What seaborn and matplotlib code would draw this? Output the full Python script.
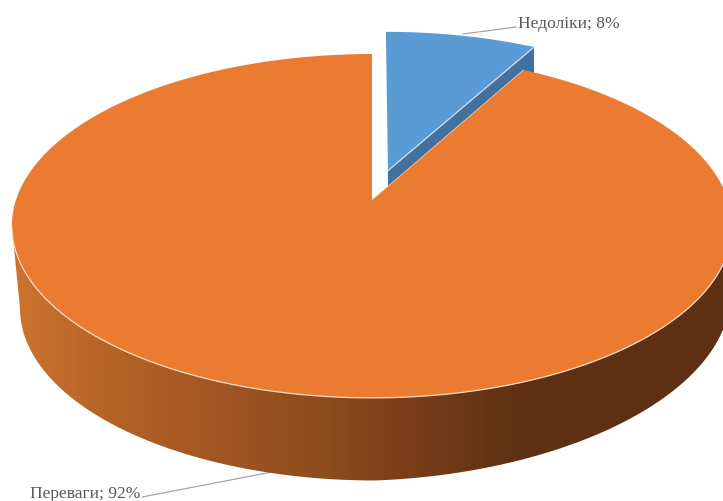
import numpy as np
import seaborn as sns
import matplotlib
matplotlib.use("Agg")
import matplotlib.pyplot as plt
from matplotlib.patches import Polygon, PathPatch
from matplotlib.path import Path

categories = ["Недоліки", "Переваги"]
shares = [8, 92]
label_texts = ["Недоліки; 8%", "Переваги; 92%"]

sns.set_theme(style="white")
plt.rcParams["font.family"] = ["Liberation Serif", "DejaVu Serif"]

BLUE, BLUE_DARK, ORANGE = "#5B9BD5", "#41719C", "#EA7B30"
GREY, LEADER = "#595959", "#A6A6A6"
side_cmap = sns.blend_palette(
    ["#CD7430", "#B56226", "#A25623", "#8F4C1E", "#783D19", "#5E3013",
     "#5E3013", "#5E3013"], as_cmap=True)

CX, CY, A, B, K = 372.0, 201.0, 356.0, 168.0, 0.151


def project(u, v):
    d = 1 + K * v
    return CX + A * u / d, CY - B * v / d


def front_edge(t):
    return CX + 3 + 355 * np.sin(t), 309.5 - 172 * np.cos(t)


fig = plt.figure(figsize=(7.23, 5.02), dpi=100, facecolor="white")
ax = fig.add_axes([0, 0, 1, 1])
ax.set_xlim(0, 723)
ax.set_ylim(502, 0)
ax.axis("off")

frac = np.asarray(shares, float) / np.sum(shares)
split = 2 * np.pi * frac[0]

# exploded slice
bis = split / 2
eu, ev = 0.185 * np.sin(bis), 0.185 * np.cos(bis)
t1 = np.linspace(0, split, 60)
bx, by = project(np.sin(t1) + eu, np.cos(t1) + ev)
ax0, ay0 = project(eu, ev)
ax.add_patch(Polygon([(ax0, ay0), (bx[-1], by[-1]), (bx[-1], by[-1] + 26),
                      (ax0, ay0 + 16)], closed=True, fc=BLUE_DARK, ec="none", zorder=2))
ax.add_patch(Polygon(np.r_[[[ax0, ay0]], np.c_[bx, by]], closed=True,
                     fc=BLUE, ec="none", zorder=3))
ax.plot([ax0, bx[-1]], [ay0, by[-1]], color="#CFE0F0", lw=0.9, zorder=4)

# large slice: wall then top
t2 = np.linspace(split, 2 * np.pi, 400)
ox, oy = project(np.sin(t2), np.cos(t2))
tf = np.linspace(np.arccos(-K), 2 * np.pi - np.arccos(-K), 300)
tb = np.linspace(np.pi * 0.5, np.pi * 1.5, 300)
tx, ty = project(np.sin(tf), np.cos(tf))
fx, fy = front_edge(tb)
fy = fy - 0.037 * np.clip(fx - 375, 0, None)
wall = np.r_[np.c_[tx, ty], np.c_[fx, fy][::-1]]
gradient = ax.imshow(np.linspace(0, 1, 512).reshape(1, -1), extent=(12, 723, 502, 0),
                     cmap=side_cmap, aspect="auto", zorder=5)
clip = PathPatch(Path(np.r_[wall, wall[:1]]), transform=ax.transData, fc="none", ec="none")
ax.add_patch(clip)
gradient.set_clip_path(clip)
ax.set_xlim(0, 723)
ax.set_ylim(502, 0)

ax.add_patch(Polygon(np.r_[[[CX, CY]], np.c_[ox, oy]], closed=True,
                     fc=ORANGE, ec="none", zorder=6))
ax.plot(tx[8:], ty[8:], color="#F6DCC6", lw=0.9, zorder=7)
ax.plot([CX, ox[0]], [CY, oy[0]], color="#F6C9A6", lw=0.6, zorder=7)

# labels and leaders
ax.plot([463, 516], [35, 28], color=LEADER, lw=0.9, zorder=4)
ax.plot([142, 272], [498, 473], color=LEADER, lw=0.9, zorder=4)
ax.text(518, 24.5, label_texts[0], color=GREY, fontsize=12.6, va="center", ha="left", zorder=8)
ax.text(30, 494.5, label_texts[1], color=GREY, fontsize=12.6, va="center", ha="left", zorder=8)

fig.savefig("out.png", dpi=100, facecolor="white")
